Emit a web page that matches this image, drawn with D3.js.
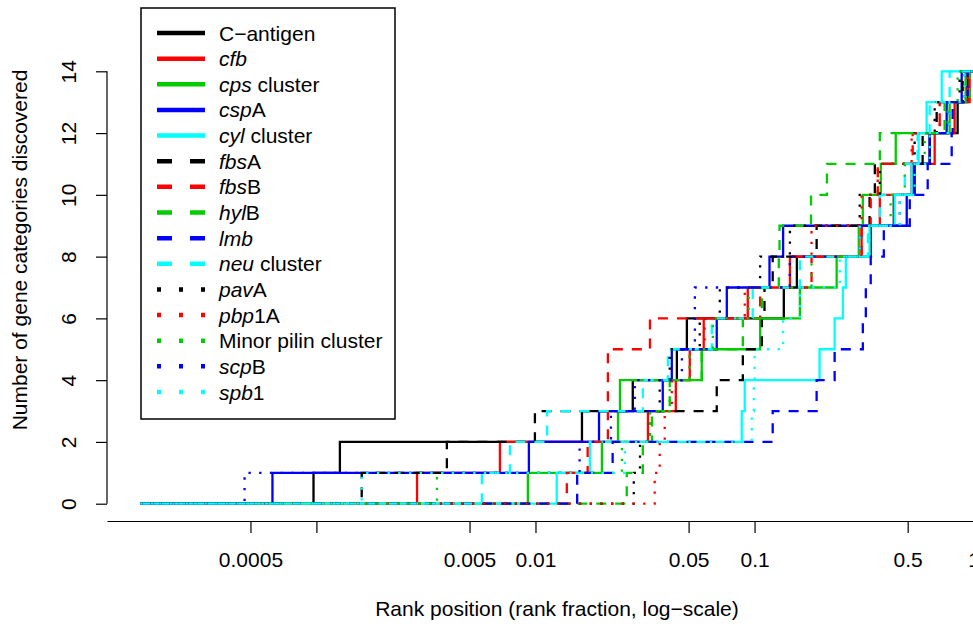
<!DOCTYPE html>
<html>
<head>
<meta charset="utf-8">
<script src="https://cdn.jsdelivr.net/npm/d3@7"></script>
<style>
  body { margin: 0; background: #fff; }
  svg { font-family: 'Liberation Sans', Arial, Helvetica, sans-serif; }
</style>
</head>
<body>
<svg id="chart" width="973" height="628"></svg>
<script>
// rank fraction at which each gene category (1..14) was discovered
const cAntigen = [0.00097, 0.00128, 0.0163, 0.0278, 0.0442, 0.0491, 0.136, 0.156, 0.339, 0.432, 0.538, 0.630, 0.845, 0.939];
const cfb = [0.00288, 0.00688, 0.0326, 0.0437, 0.0506, 0.0586, 0.0931, 0.145, 0.308, 0.373, 0.521, 0.664, 0.819, 0.959];
const cps = [0.00923, 0.0201, 0.0238, 0.0243, 0.0574, 0.106, 0.161, 0.237, 0.299, 0.312, 0.377, 0.441, 0.777, 0.919];
const cspA = [0.00063, 0.00933, 0.0195, 0.0381, 0.0419, 0.0672, 0.0747, 0.117, 0.135, 0.495, 0.533, 0.630, 0.753, 0.882];
const cyl = [0.0125, 0.0177, 0.0874, 0.0902, 0.198, 0.232, 0.253, 0.261, 0.335, 0.436, 0.521, 0.561, 0.610, 0.715];
const fbsA = [0.00161, 0.00394, 0.00994, 0.0672, 0.0884, 0.108, 0.111, 0.121, 0.192, 0.335, 0.354, 0.585, 0.678, 0.891];
const fbsB = [0.0139, 0.0173, 0.0214, 0.0214, 0.0214, 0.0333, 0.106, 0.182, 0.308, 0.339, 0.365, 0.527, 0.700, 0.939];
const hylB = [0.0261, 0.0309, 0.0340, 0.0410, 0.0574, 0.0884, 0.108, 0.129, 0.130, 0.181, 0.214, 0.373, 0.737, 0.959];
const lmb = [0.0155, 0.0225, 0.121, 0.192, 0.232, 0.312, 0.322, 0.339, 0.389, 0.511, 0.617, 0.794, 0.802, 0.939];
const neu = [0.00569, 0.00764, 0.0113, 0.0309, 0.0402, 0.0638, 0.0981, 0.161, 0.329, 0.373, 0.485, 0.555, 0.630, 0.777];
const pavA = [0.0281, 0.0300, 0.0333, 0.0369, 0.0410, 0.0562, 0.0694, 0.106, 0.145, 0.302, 0.373, 0.538, 0.664, 0.863];
const pbp1A = [0.0350, 0.0369, 0.0389, 0.0419, 0.0506, 0.0592, 0.0902, 0.145, 0.182, 0.308, 0.365, 0.521, 0.700, 0.939];
const minorPilin = [0.00355, 0.0248, 0.0333, 0.0410, 0.0506, 0.0645, 0.0941, 0.182, 0.302, 0.418, 0.485, 0.598, 0.761, 0.845];
const scpB = [0.00047, 0.0159, 0.0221, 0.0284, 0.0466, 0.0534, 0.0534, 0.145, 0.302, 0.460, 0.538, 0.630, 0.777, 0.910];
const spb1 = [0.00161, 0.0256, 0.0971, 0.0992, 0.100, 0.135, 0.161, 0.245, 0.302, 0.460, 0.538, 0.630, 0.777, 0.910];

const seriesData = [cAntigen, cfb, cps, cspA, cyl, fbsA, fbsB, hylB, lmb, neu, pavA, pbp1A, minorPilin, scpB, spb1];
// legend labels: [italic part, plain part]
const seriesLabels = [
  ['', 'C\u2212antigen'], ['cfb', ''], ['cps', ' cluster'], ['csp', 'A'], ['cyl', ' cluster'],
  ['fbs', 'A'], ['fbs', 'B'], ['hyl', 'B'], ['lmb', ''], ['neu', ' cluster'],
  ['pav', 'A'], ['pbp', '1A'], ['', 'Minor pilin cluster'], ['scp', 'B'], ['spb', '1']
];
const palette = ['#000000', '#ff0000', '#00cd00', '#0000ff', '#00ffff'];
const lineTypes = ['solid', 'dashed', 'dotted'];

const rankStart = 0.000157;
const rankEnd = 1;

const xTickValues = [0.0005, 0.001, 0.005, 0.01, 0.05, 0.1, 0.5, 1];
const xTickLabels = ['0.0005', '', '0.005', '0.01', '0.05', '0.1', '0.5', '1'];
const yTickValues = [0, 2, 4, 6, 8, 10, 12, 14];

const svg = d3.select('#chart');

const x = d3.scaleLog().domain([1.107e-4, 1.42]).range([107, 1007]);
const y = d3.scaleLinear().domain([-0.56, 14.56]).range([521, 54]);

const dashFor = { solid: null, dashed: '10,9', dotted: '2.3,8.4' };
const legendDash = { solid: null, dashed: '15,18', dotted: '4,18' };

const line = d3
  .line()
  .x(function (d) { return x(d[0]); })
  .y(function (d) { return y(d[1]); })
  .curve(d3.curveStepAfter);

// step lines
seriesData.forEach(function (steps, i) {
  const pts = [[rankStart, 0]];
  steps.forEach(function (s, k) { pts.push([s, k + 1]); });
  pts.push([rankEnd, steps.length]);
  const type = lineTypes[Math.floor(i / 5)];
  svg
    .append('path')
    .datum(pts)
    .attr('fill', 'none')
    .attr('stroke', palette[i % 5])
    .attr('stroke-width', 2.3)
    .attr('stroke-dasharray', dashFor[type])
    .attr('d', line);
});

// Y axis
const yAxisG = svg
  .append('g')
  .attr('transform', 'translate(107,0)')
  .call(d3.axisLeft(y).tickValues(yTickValues).tickSize(11).tickSizeOuter(0));
yAxisG.select('.domain').remove();
yAxisG
  .append('line')
  .attr('y1', y(0))
  .attr('y2', y(14))
  .attr('stroke', '#000')
  .attr('stroke-width', 1.2);
yAxisG.selectAll('.tick line').attr('stroke-width', 1.2);
yAxisG
  .selectAll('.tick text')
  .attr('x', 0)
  .attr('dy', 0)
  .attr('fill', '#000')
  .attr('text-anchor', 'middle')
  .attr('transform', 'translate(-31,0) rotate(-90)')
  .style('font-size', '21px');

// X axis
const xAxisG = svg
  .append('g')
  .attr('transform', 'translate(0,521)')
  .call(
    d3
      .axisBottom(x)
      .tickValues(xTickValues)
      .tickFormat(function (d, i) { return xTickLabels[i]; })
      .tickSize(12)
      .tickSizeOuter(0),
  );
xAxisG.select('.domain').attr('stroke-width', 1.2);
xAxisG.selectAll('.tick line').attr('stroke-width', 1.2);
xAxisG
  .selectAll('.tick text')
  .attr('y', 46)
  .attr('dy', 0)
  .attr('fill', '#000')
  .style('font-size', '21px');

// axis titles
svg
  .append('text')
  .attr('x', 557)
  .attr('y', 616)
  .attr('text-anchor', 'middle')
  .style('font-size', '21px')
  .text('Rank position (rank fraction, log\u2212scale)');

svg
  .append('text')
  .attr('transform', 'translate(27,' + 250 + ') rotate(-90)')
  .attr('text-anchor', 'middle')
  .style('font-size', '21px')
  .text('Number of gene categories discovered');

// legend
const legend = svg.append('g');
legend
  .append('rect')
  .attr('x', 141)
  .attr('y', 8)
  .attr('width', 254)
  .attr('height', 411)
  .attr('fill', '#fff')
  .attr('stroke', '#000')
  .attr('stroke-width', 1.5);

const legendY = d3.scaleLinear().domain([0, 14]).range([33, 392]);

seriesLabels.forEach(function (lab, i) {
  const type = lineTypes[Math.floor(i / 5)];
  const ly = legendY(i);
  legend
    .append('line')
    .attr('x1', 157)
    .attr('x2', 205)
    .attr('y1', ly)
    .attr('y2', ly)
    .attr('stroke', palette[i % 5])
    .attr('stroke-width', 4.5)
    .attr('stroke-dasharray', legendDash[type]);
  const t = legend
    .append('text')
    .attr('x', 219)
    .attr('y', ly + 7.5)
    .style('font-size', '21px');
  if (lab[0]) t.append('tspan').style('font-style', 'italic').text(lab[0]);
  if (lab[1]) t.append('tspan').text(lab[1]);
});
</script>
</body>
</html>
